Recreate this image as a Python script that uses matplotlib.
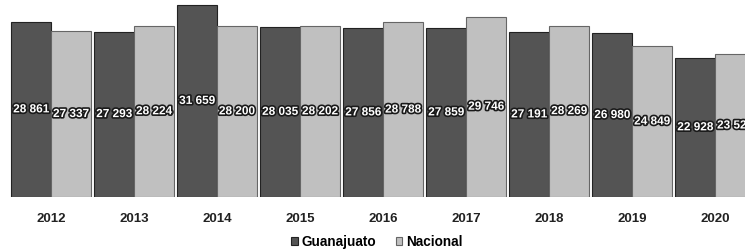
import matplotlib.pyplot as plt
import matplotlib.patheffects as pe
import numpy as np

years = ['2012', '2013', '2014', '2015', '2016', '2017', '2018', '2019', '2020']
guanajuato = [28861, 27293, 31659, 28035, 27856, 27859, 27191, 26980, 22928]
nacional = [27337, 28224, 28200, 28202, 28788, 29746, 28269, 24849, 23520]

plt.rcParams['font.family'] = ['Liberation Sans', 'DejaVu Sans']


def fmt(v):
    return '{:,}'.format(v).replace(',', ' ')


def main():
    fig = plt.figure(figsize=(7.45, 2.49), dpi=100)
    ax = fig.add_axes([0, 0.21, 1, 0.79])

    x = np.arange(len(years))
    w = 0.48
    b1 = ax.bar(x - w / 2, guanajuato, w, color='#545454', edgecolor='#222222',
                linewidth=0.8, label='Guanajuato')
    b2 = ax.bar(x + w / 2, nacional, w, color='#c0c0c0', edgecolor='#666666',
                linewidth=0.8, label='Nacional')

    stroke = [pe.withStroke(linewidth=2.4, foreground='#1a1a1a')]
    for bars, vals in ((b1, guanajuato), (b2, nacional)):
        for r, v in zip(bars, vals):
            ax.text(r.get_x() + r.get_width() / 2, v / 2, fmt(v), ha='center',
                    va='center', color='white', fontsize=8.5, fontweight='bold',
                    path_effects=stroke)

    ax.set_xlim(-0.614, 8.36)
    ax.set_ylim(0, 32500)
    ax.set_xticks(x)
    ax.set_xticklabels(years, fontsize=9.5, fontweight='bold', color='#222222')
    ax.tick_params(axis='x', length=0, pad=12)
    ax.set_yticks([])
    for s in ax.spines.values():
        s.set_visible(False)

    fig.legend(handles=[b1, b2], loc='center', bbox_to_anchor=(0.506, 0.028),
               ncol=2, frameon=False, handlelength=0.5,
               handleheight=0.5, handletextpad=0.3, columnspacing=1.4,
               borderpad=0, prop={'weight': 'bold', 'size': 9.8})

    fig.savefig('out.png', dpi=100)


if __name__ == '__main__':
    main()
